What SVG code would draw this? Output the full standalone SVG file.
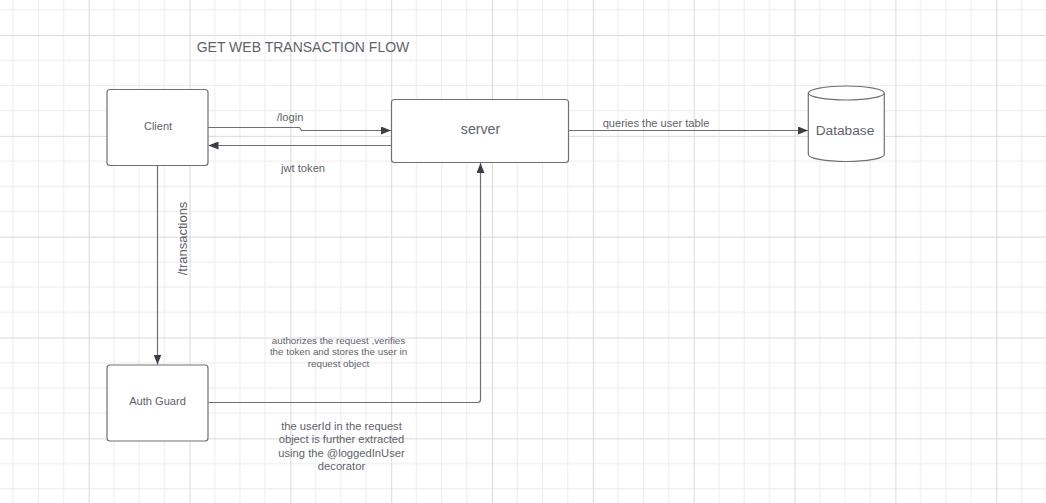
<svg xmlns="http://www.w3.org/2000/svg" width="1046" height="503" viewBox="0 0 1046 503">
<defs>
<pattern id="grid" patternUnits="userSpaceOnUse" x="88.7" y="35" width="100.84" height="100.84">
<path d="M25.21 0V100.84M50.42 0V100.84M75.63 0V100.84M0 25.21H100.84M0 50.42H100.84M0 75.63H100.84" stroke="#ececec" stroke-width="1" fill="none"/>
<path d="M0.5 0V100.84M0 0.5H100.84" stroke="#dadada" stroke-width="1" fill="none"/>
</pattern>
<marker id="arr" viewBox="0 0 10 8" refX="10" refY="4" markerWidth="10" markerHeight="8" markerUnits="userSpaceOnUse" orient="auto">
<path d="M0 0L10 4L0 8Z" fill="#3b3e45"/>
</marker>
<style>
.box{fill:#ffffff;stroke:#6d7078;stroke-width:1.2}
.lbl{font-family:"Liberation Sans",Arial,sans-serif;fill:#5f636b;text-anchor:middle;dominant-baseline:central}
.con{fill:none;stroke:#6d7078;stroke-width:1.2}
</style>
</defs>
<rect width="1046" height="503" fill="#ffffff"/>
<rect width="1046" height="503" fill="url(#grid)"/>
<text class="lbl" x="303" y="47" font-size="14">GET WEB TRANSACTION FLOW</text>
<g id="connectors">
<path class="con" d="M208 127.5H299.5L301.5 130.5H391" marker-end="url(#arr)"/>
<path class="con" d="M391.5 145.5H208.5" marker-end="url(#arr)"/>
<path class="con" d="M568.5 130.5H808" marker-end="url(#arr)"/>
<path class="con" d="M157.5 165.5V364.5" marker-end="url(#arr)"/>
<path class="con" d="M208.5 402.5H477.5Q480.5 402.5 480.5 399.5V163" marker-end="url(#arr)"/>
<text class="lbl" x="290" y="117" font-size="11.2">/login</text>
<text class="lbl" x="303" y="167.5" font-size="11.2">jwt token</text>
<text class="lbl" x="656" y="123" font-size="11.1">queries the user table</text>
<text class="lbl" font-size="13" transform="translate(182.5 238.5) rotate(-90)">/transactions</text>
<text class="lbl" font-size="9.8" x="338.5"><tspan x="338.5" y="339.5">authorizes the request ,verifies</tspan><tspan x="338.5" y="351">the token and stores the user in</tspan><tspan x="338.5" y="362.7">request object</tspan></text>
<text class="lbl" font-size="11.2" x="341.5"><tspan x="341.5" y="425.7">the userId in the request</tspan><tspan x="341.5" y="439.2">object is further extracted</tspan><tspan x="341.5" y="452.7">using the @loggedInUser</tspan><tspan x="341.5" y="466.2">decorator</tspan></text>
</g>
<g id="client">
<rect class="box" x="107" y="89.5" width="101" height="76" rx="3"/>
<text class="lbl" x="158" y="126" font-size="11">Client</text>
</g>
<g id="server">
<rect class="box" x="391.5" y="99.5" width="177" height="63" rx="3"/>
<text class="lbl" x="480.5" y="128.5" font-size="14.2">server</text>
</g>
<g id="database">
<path class="box" d="M808.3 93V154.5A38 7 0 0 0 884.3 154.5V93A38 7 0 0 0 808.3 93Z"/>
<path class="con" d="M808.3 93A38 7 0 0 0 884.3 93"/>
<text class="lbl" x="845" y="130" font-size="13.7">Database</text>
</g>
<g id="authguard">
<rect class="box" x="107" y="365" width="101" height="76" rx="3"/>
<text class="lbl" x="157.5" y="401" font-size="11.1">Auth Guard</text>
</g>
</svg>
